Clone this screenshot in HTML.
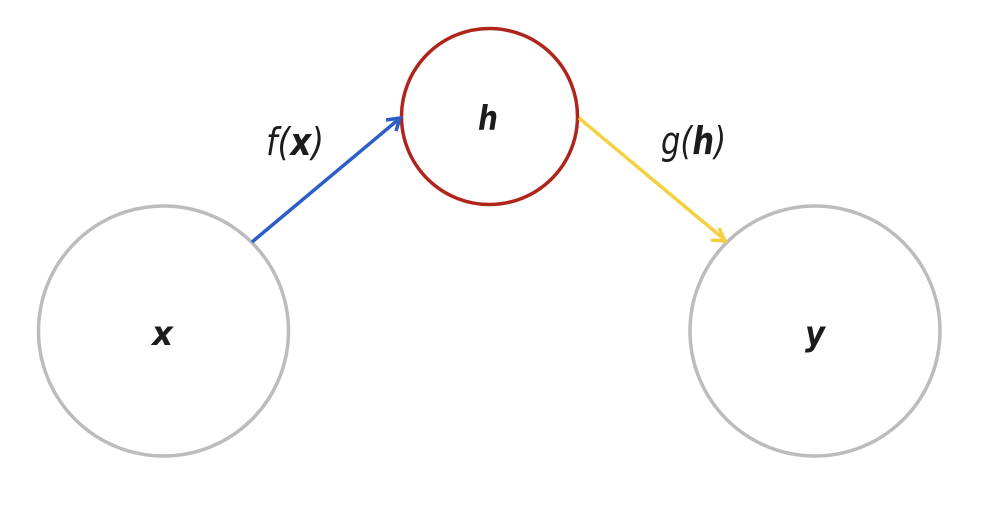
<!DOCTYPE html>
<html><head><meta charset="utf-8"><style>
html,body{margin:0;padding:0;background:#fff;}
svg{display:block;}
text{font-family:"DejaVu Sans","Liberation Sans",sans-serif;fill:#1c1c1c;font-style:italic;}
.b{font-weight:bold;}
</style></head><body>
<svg width="1000" height="516" viewBox="0 0 1000 516" xmlns="http://www.w3.org/2000/svg">
<circle cx="163.5" cy="331" r="125" fill="none" stroke="#bcbcbc" stroke-width="3.5"/>
<circle cx="815" cy="331" r="125" fill="none" stroke="#bcbcbc" stroke-width="3.5"/>
<circle cx="489.5" cy="116.5" r="88" fill="none" stroke="#b0251b" stroke-width="3.5"/>
<!-- blue arrow -->
<line x1="252" y1="242" x2="399" y2="119" stroke="#2b5ec6" stroke-width="3.5"/>
<polyline points="386,120 400,118 396,131" fill="none" stroke="#2b5ec6" stroke-width="3.5" stroke-linejoin="miter"/>
<!-- yellow arrow -->
<line x1="579" y1="118" x2="725" y2="240" stroke="#f5d141" stroke-width="3.5"/>
<polyline points="719,228 725,241 711,240" fill="none" stroke="#f5d141" stroke-width="3.5" stroke-linejoin="miter"/>
<text x="266" y="155" font-size="38" textLength="58" lengthAdjust="spacingAndGlyphs">f(<tspan class="b">x</tspan>)</text>
<text x="661" y="154" font-size="38" textLength="65" lengthAdjust="spacingAndGlyphs">g(<tspan class="b">h</tspan>)</text>
<text x="478" y="130" font-size="34" class="b" textLength="20" lengthAdjust="spacingAndGlyphs">h</text>
<text x="152" y="345" font-size="34" class="b" textLength="21" lengthAdjust="spacingAndGlyphs">x</text>
<text x="805" y="345" font-size="34" class="b" textLength="20" lengthAdjust="spacingAndGlyphs">y</text>
</svg>
</body></html>
